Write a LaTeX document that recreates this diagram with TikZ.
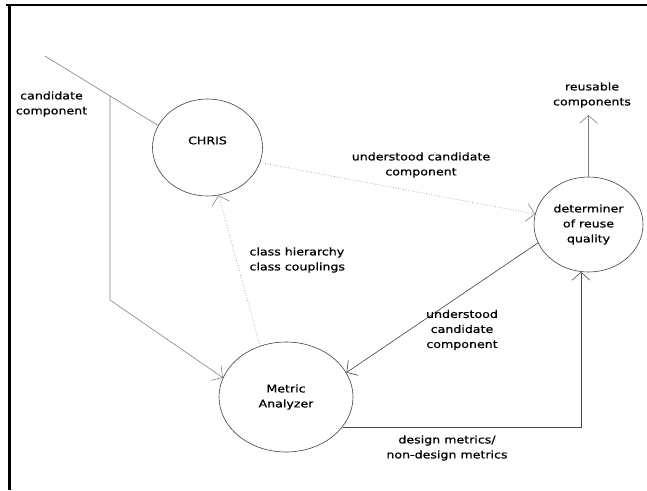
\documentclass[tikz,border=0pt]{standalone}
\usepackage{fontspec}
\setmainfont{DejaVu Sans}[FakeStretch=1.2,FakeBold=0.8]
\usetikzlibrary{shapes.geometric,arrows.meta}
\begin{document}
\begin{tikzpicture}[x=1pt,y=-1pt,
  every node/.style={font=\fontsize{10.5}{15}\selectfont, align=center, text=black},
  proc/.style={ellipse, draw=black!75, line width=0.6pt, inner sep=0pt},
  flow/.style={draw=black!50, line width=0.6pt},
  dflow/.style={flow, dotted},
  tip/.style={-{Straight Barb[length=8pt,width=18pt]}}
]
\useasboundingbox (0,0) rectangle (647,490);
% frame
\draw[line width=2.5pt] (6,5) -- (647,5);
\draw[line width=3pt] (9.5,4) -- (9.5,490);
% processes
\node[proc, minimum width=110pt, minimum height=97pt,
      label={[name=chrislbl,yshift=7pt]center:CHRIS}] (chris) at (207.5,147.5) {};
\node[proc, minimum width=109pt, minimum height=95pt] (det) at (588.5,224.5) {determiner\\of reuse\\quality};
\node[proc, minimum width=134pt, minimum height=110pt] (ma) at (286,397) {Metric\\Analyzer};
% free ends and bends
\coordinate (src) at (45,56);
\coordinate (br) at (110,96.2);
\coordinate (bend) at (110,300);
\coordinate (out) at (588.5,115);
% connectors
\draw[flow] (src) -- (chris.156);
\draw[flow,tip] (br) -- (bend) -- (ma.163);
\draw[dflow,tip] (chris.-16) -- (det.169);
\draw[dflow,tip] (ma.117) -- (chris.-77);
\draw[flow,draw=black!75,tip] (det.200) -- (ma.22);
\draw[flow,draw=black!70,tip] (ma.-28) -| (det.-99);
\draw[flow,tip] (det.north) -- (out);
% labels
\node (candlbl) at (51.5,104) {candidate\\component};
\node (uc1) at (421,165) {understood candidate\\component};
\node (reuse) at (592,95) {reusable\\components};
\node[align=left, anchor=west] (cls) at (246,260) {class hierarchy\\class couplings};
\node (uc2) at (462,330) {understood\\candidate\\component};
\node (dm) at (447,448) {design metrics/\\non-design metrics};
\end{tikzpicture}
\end{document}
